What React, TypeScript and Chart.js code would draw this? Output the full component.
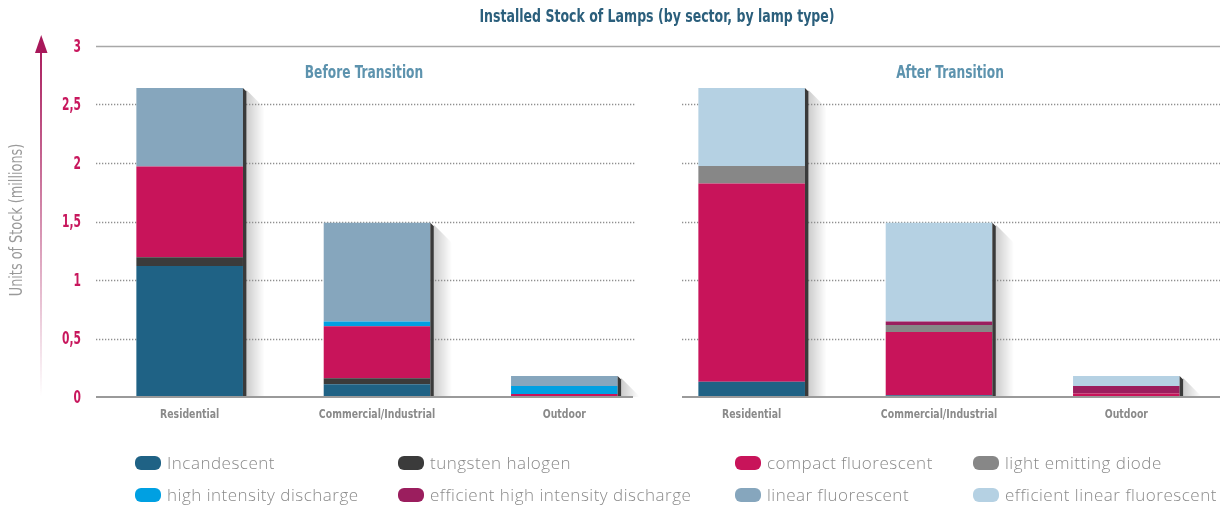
import React, { useEffect, useRef } from "react";
import { Chart, registerables } from "chart.js";

Chart.register(...registerables);

// ---------- data ----------
const categories = [
  "Residential",
  "Commercial/Industrial",
  "Outdoor",
  "Residential",
  "Commercial/Industrial",
  "Outdoor",
];
const panelTitles = ["Before Transition", "After Transition"];
const chartTitle = "Installed Stock of Lamps (by sector, by lamp type)";
const yAxisTitle = "Units of Stock (millions)";
const yTickValues = [0, 0.5, 1, 1.5, 2, 2.5, 3];

const seriesNames = [
  "Incandescent",
  "tungsten halogen",
  "compact fluorescent",
  "light emitting diode",
  "high intensity discharge",
  "efficient high intensity discharge",
  "linear fluorescent",
  "efficient linear fluorescent",
];
const incandescent = [1.12, 0.11, 0, 0.13, 0.015, 0];
const tungstenHalogen = [0.075, 0.05, 0, 0, 0, 0];
const compactFluorescent = [0.775, 0.445, 0.025, 1.695, 0.54, 0.03];
const lightEmittingDiode = [0, 0, 0, 0.15, 0.06, 0];
const highIntensityDischarge = [0, 0.04, 0.07, 0, 0, 0];
const efficientHighIntensityDischarge = [0, 0, 0, 0, 0.03, 0.065];
const linearFluorescent = [0.67, 0.845, 0.085, 0, 0, 0];
const efficientLinearFluorescent = [0, 0, 0, 0.665, 0.845, 0.085];

const seriesValues = [
  incandescent,
  tungstenHalogen,
  compactFluorescent,
  lightEmittingDiode,
  highIntensityDischarge,
  efficientHighIntensityDischarge,
  linearFluorescent,
  efficientLinearFluorescent,
];
const seriesColors = [
  "#1f6285",
  "#3b3b3b",
  "#c8145a",
  "#878787",
  "#00a0e2",
  "#9b1e5e",
  "#86a6bd",
  "#b5d1e3",
];

// ---------- styles ----------
const NARROW = '"Liberation Sans Narrow", "DejaVu Sans Condensed", "Roboto Condensed", sans-serif';
const LEGEND_FONT = '"Open Sans", "Noto Sans", sans-serif';
const fmtTick = (v: number) => String(v).replace(".", ",");

function drawText(
  ctx: CanvasRenderingContext2D,
  text: string,
  x: number,
  y: number,
  font: string,
  color: string,
  align: CanvasTextAlign,
  sx: number,
  rotate = 0
) {
  ctx.save();
  ctx.font = font;
  ctx.fillStyle = color;
  ctx.textAlign = align;
  ctx.textBaseline = "middle";
  ctx.translate(x, y);
  if (rotate) ctx.rotate(rotate);
  ctx.scale(sx, 1);
  ctx.fillText(text, 0, 0);
  ctx.restore();
}

const stackTotal = (i: number) => {
  let t = 0;
  seriesValues.forEach((s) => (t += s[i]));
  return t;
};

const decorPlugin = {
  id: "decor",
  beforeDatasetsDraw(chart: any) {
    const { ctx, chartArea, scales } = chart;
    const x = scales.x;
    const y = scales.y;
    const y0 = y.getPixelForValue(0);
    const meta = chart.getDatasetMeta(0);
    ctx.save();
    // shadows
    categories.forEach((_, i) => {
      const bar = meta.data[i];
      const right = bar.x + bar.width / 2 + 3.5;
      const top = y.getPixelForValue(stackTotal(i));
      const h = y0 - top;
      const d = Math.min(18, h);
      const g = ctx.createLinearGradient(right, 0, right + 18, 0);
      g.addColorStop(0, "rgba(0,0,0,0.2)");
      g.addColorStop(1, "rgba(0,0,0,0)");
      ctx.fillStyle = g;
      ctx.beginPath();
      ctx.moveTo(right, top + 2);
      ctx.lineTo(right + d, top + 2 + d);
      ctx.lineTo(right + d, y0);
      ctx.lineTo(right, y0);
      ctx.closePath();
      ctx.fill();
    });
    // gridlines
    const mid = x.getPixelForValue(2.5);
    yTickValues.forEach((v) => {
      if (v === 0) return;
      const py = Math.round(y.getPixelForValue(v)) + 0.5;
      ctx.beginPath();
      if (v === 3) {
        ctx.setLineDash([]);
        ctx.strokeStyle = "#a8a8a8";
        ctx.lineWidth = 1.5;
        ctx.moveTo(chartArea.left, py);
        ctx.lineTo(chartArea.right, py);
      } else {
        ctx.setLineDash([1.3, 1.7]);
        ctx.strokeStyle = "#8f8f8f";
        ctx.lineWidth = 1.4;
        ctx.moveTo(chartArea.left, py);
        ctx.lineTo(mid - 23, py);
        ctx.moveTo(mid + 24, py);
        ctx.lineTo(chartArea.right, py);
      }
      ctx.stroke();
    });
    ctx.restore();
  },
  afterDatasetsDraw(chart: any) {
    const { ctx, chartArea, scales } = chart;
    const x = scales.x;
    const y = scales.y;
    const y0 = y.getPixelForValue(0);
    const meta = chart.getDatasetMeta(0);
    ctx.save();
    categories.forEach((_, i) => {
      const bar = meta.data[i];
      const right = bar.x + bar.width / 2;
      const top = y.getPixelForValue(stackTotal(i));
      ctx.fillStyle = "#3a3a3a";
      ctx.beginPath();
      ctx.moveTo(right, top);
      ctx.lineTo(right + 3.5, top + 3.5);
      ctx.lineTo(right + 3.5, y0);
      ctx.lineTo(right, y0);
      ctx.closePath();
      ctx.fill();
    });
    // baseline
    const mid = x.getPixelForValue(2.5);
    ctx.strokeStyle = "#9a9a9a";
    ctx.lineWidth = 2;
    ctx.beginPath();
    ctx.moveTo(chartArea.left, y0);
    ctx.lineTo(mid - 25, y0);
    ctx.moveTo(mid + 24, y0);
    ctx.lineTo(chartArea.right, y0);
    ctx.stroke();
    ctx.restore();
  },
  afterDraw(chart: any) {
    const { ctx, scales } = chart;
    const x = scales.x;
    const y = scales.y;
    ctx.save();
    // y tick labels
    y.ticks.forEach((t: any) => {
      drawText(ctx, fmtTick(t.value), 81, y.getPixelForValue(t.value) + 1.5, `bold 17px ${NARROW}`, "#c8175d", "right", 0.7);
    });
    // x tick labels
    categories.forEach((c, i) => {
      drawText(ctx, c, x.getPixelForValue(i), 415, `bold 13px ${NARROW}`, "#8a8a8a", "center", 0.8);
    });
    // title
    drawText(ctx, chartTitle, 657, 18, `bold 17px ${NARROW}`, "#2b5f7c", "center", 0.82);
    // panel titles
    drawText(ctx, panelTitles[0], 364, 74, `bold 17px ${NARROW}`, "#5d93ae", "center", 0.8);
    drawText(ctx, panelTitles[1], 950, 74, `bold 17px ${NARROW}`, "#5d93ae", "center", 0.8);
    // y axis title
    drawText(ctx, yAxisTitle, 18, 220, `17px ${NARROW}`, "#9a9a9a", "center", 0.84, -Math.PI / 2);
    // arrow
    const g = ctx.createLinearGradient(0, 397, 0, 40);
    g.addColorStop(0, "rgba(168,24,90,0)");
    g.addColorStop(1, "rgba(168,24,90,1)");
    ctx.strokeStyle = g;
    ctx.lineWidth = 2;
    ctx.beginPath();
    ctx.moveTo(41, 397);
    ctx.lineTo(41, 50);
    ctx.stroke();
    ctx.fillStyle = "#a8185a";
    ctx.beginPath();
    ctx.moveTo(35, 53);
    ctx.lineTo(47.5, 53);
    ctx.lineTo(41.2, 35);
    ctx.closePath();
    ctx.fill();
    // legend
    const cols = [135, 398, 735, 973];
    const rows = [463, 495];
    ctx.textAlign = "left";
    ctx.textBaseline = "middle";
    ctx.font = `300 17px ${LEGEND_FONT}`;
    (ctx as any).letterSpacing = "0.5px";
    seriesNames.forEach((name, i) => {
      const cx = cols[i % 4];
      const cy = rows[Math.floor(i / 4)];
      ctx.fillStyle = seriesColors[i];
      ctx.beginPath();
      (ctx as any).roundRect(cx, cy - 7, 26, 14, 6);
      ctx.fill();
      ctx.fillStyle = "#8a8a8a";
      ctx.fillText(name, cx + 32, cy + 1);
    });
    ctx.restore();
  },
};

export default function App() {
  const ref = useRef<HTMLCanvasElement | null>(null);
  useEffect(() => {
    document.body.style.margin = "0";
    if (!ref.current) return;
    const chart = new Chart(ref.current, {
      type: "bar",
      data: {
        labels: categories,
        datasets: seriesNames.map((name, i) => ({
          label: name,
          data: seriesValues[i],
          backgroundColor: seriesColors[i],
          borderWidth: 0,
          barPercentage: 0.569,
          categoryPercentage: 1,
        })),
      },
      options: {
        animation: false,
        responsive: false,
        maintainAspectRatio: false,
        layout: { padding: { top: 46, right: 10, bottom: 80, left: 0 } },
        plugins: {
          legend: { display: false },
          title: { display: false },
          tooltip: { enabled: false },
        },
        scales: {
          x: {
            stacked: true,
            grid: { display: false },
            border: { display: false },
            ticks: { display: false },
            afterFit: (s: any) => {
              s.height = 30;
            },
          },
          y: {
            stacked: true,
            min: 0,
            max: 3,
            grid: { display: false },
            border: { display: false },
            ticks: { stepSize: 0.5, display: false },
            afterFit: (s: any) => {
              s.width = 96;
            },
          },
        },
      },
      plugins: [decorPlugin],
    });
    return () => chart.destroy();
  }, []);
  return (
    <canvas
      ref={ref}
      width={1230}
      height={507}
      style={{ display: "block", width: 1230, height: 507 }}
    />
  );
}
